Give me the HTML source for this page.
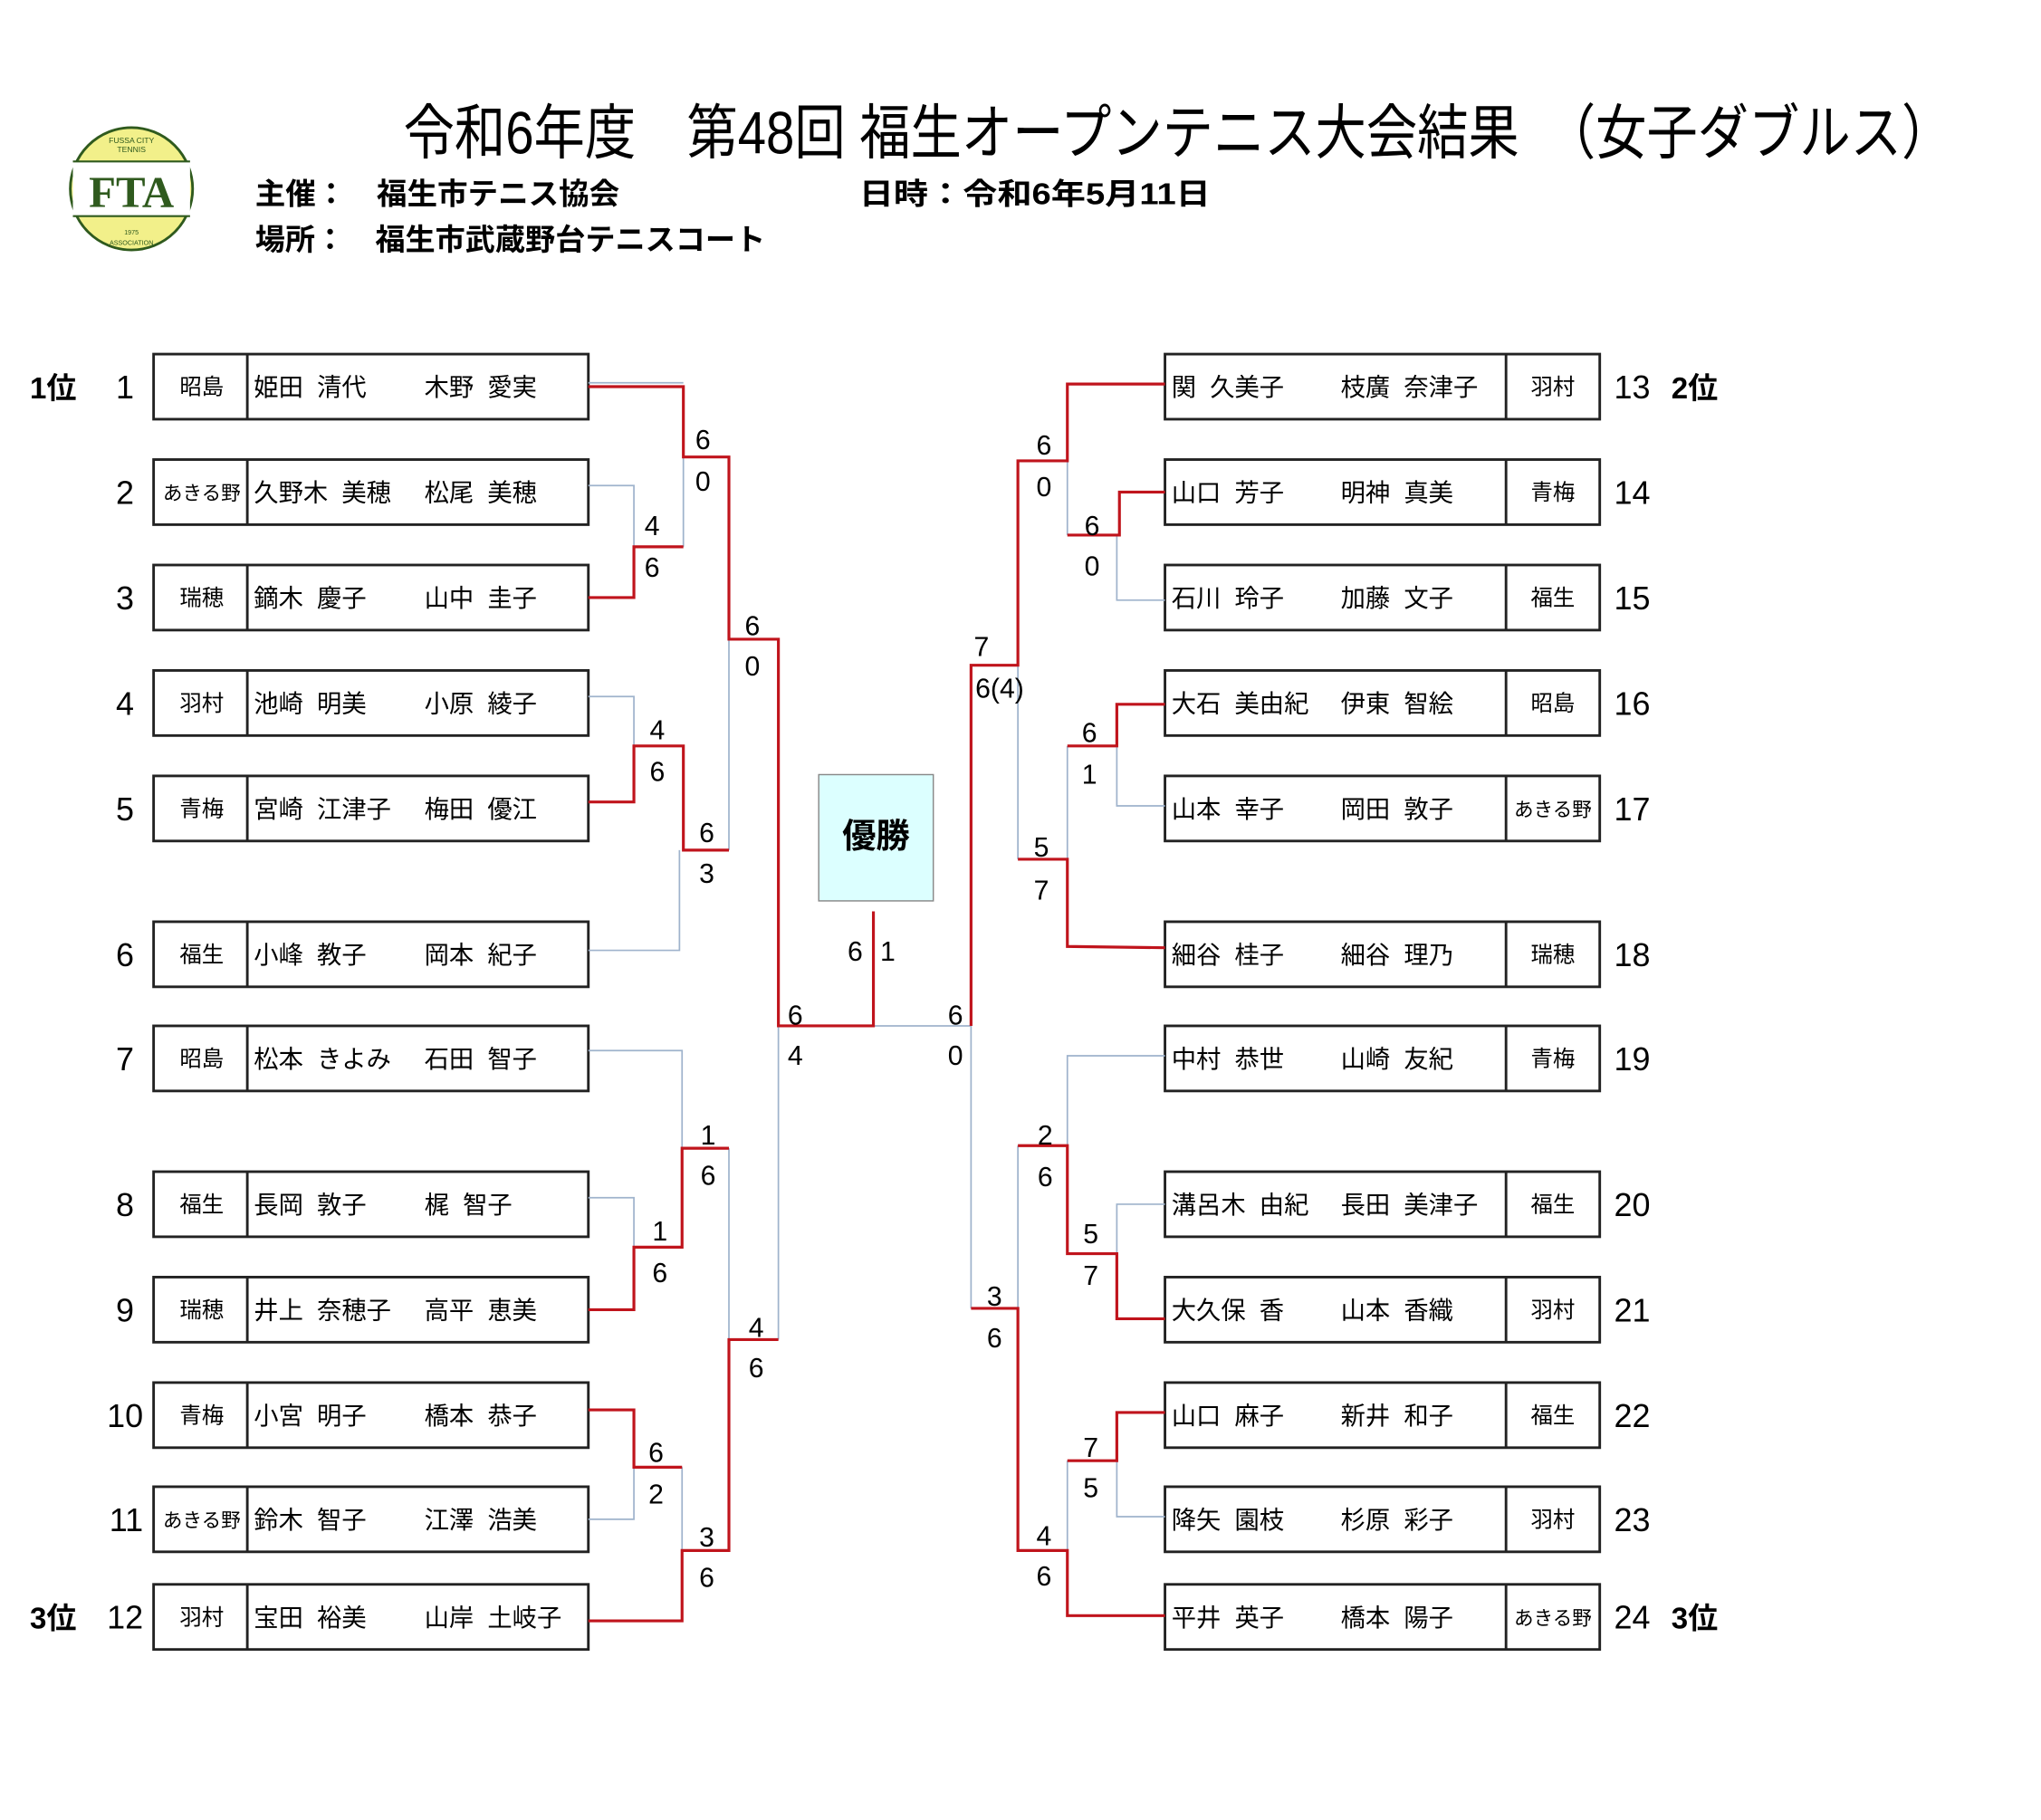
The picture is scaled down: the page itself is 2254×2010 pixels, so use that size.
<!DOCTYPE html>
<html><head><meta charset="utf-8"><style>
html,body{margin:0;padding:0;background:#fff;}
svg{display:block;}
text{font-family:"Liberation Sans","Noto Sans CJK JP",sans-serif;fill:#000;}
</style></head><body>
<svg width="2254" height="2010" viewBox="0 0 1568 1398" preserveAspectRatio="none" xmlns="http://www.w3.org/2000/svg">
<!-- logo -->
<circle cx="101" cy="145" r="47" fill="#f2f08a" stroke="#2f5a1e" stroke-width="2"/>
<rect x="56" y="124" width="90" height="42" fill="#fff"/>
<line x1="56" y1="124" x2="146" y2="124" stroke="#2f5a1e" stroke-width="1.5"/>
<line x1="56" y1="166" x2="146" y2="166" stroke="#2f5a1e" stroke-width="1.5"/>
<text x="101" y="159" font-size="34" text-anchor="middle" style="font-family:'Liberation Serif',serif;fill:#2f5a1e" font-weight="bold">FTA</text>
<text x="101" y="110" font-size="6" text-anchor="middle" style="fill:#2f5a1e">FUSSA CITY</text>
<text x="101" y="117" font-size="6" text-anchor="middle" style="fill:#2f5a1e">TENNIS</text>
<text x="101" y="180" font-size="5" text-anchor="middle" style="fill:#2f5a1e">1975</text>
<text x="101" y="188" font-size="5" text-anchor="middle" style="fill:#2f5a1e">ASSOCIATION</text>

<text x="310" y="118" font-size="46" textLength="1190" lengthAdjust="spacingAndGlyphs">令和6年度　第48回 福生オープンテニス大会結果　（女子ダブルス）</text>
<text x="196" y="157" font-size="23" font-weight="bold" textLength="280" lengthAdjust="spacingAndGlyphs">主催：　福生市テニス協会</text>
<text x="660" y="157" font-size="23" font-weight="bold" textLength="270" lengthAdjust="spacingAndGlyphs">日時：令和6年5月11日</text>
<text x="196" y="192" font-size="23" font-weight="bold" textLength="392" lengthAdjust="spacingAndGlyphs">場所：　福生市武蔵野台テニスコート</text>

<g fill="none" stroke="#222" stroke-width="2">
<rect x="118" y="272" width="334" height="50"/><line x1="190" y1="272" x2="190" y2="322"/>
<rect x="118" y="353" width="334" height="50"/><line x1="190" y1="353" x2="190" y2="403"/>
<rect x="118" y="434" width="334" height="50"/><line x1="190" y1="434" x2="190" y2="484"/>
<rect x="118" y="515" width="334" height="50"/><line x1="190" y1="515" x2="190" y2="565"/>
<rect x="118" y="596" width="334" height="50"/><line x1="190" y1="596" x2="190" y2="646"/>
<rect x="118" y="708" width="334" height="50"/><line x1="190" y1="708" x2="190" y2="758"/>
<rect x="118" y="788" width="334" height="50"/><line x1="190" y1="788" x2="190" y2="838"/>
<rect x="118" y="900" width="334" height="50"/><line x1="190" y1="900" x2="190" y2="950"/>
<rect x="118" y="981" width="334" height="50"/><line x1="190" y1="981" x2="190" y2="1031"/>
<rect x="118" y="1062" width="334" height="50"/><line x1="190" y1="1062" x2="190" y2="1112"/>
<rect x="118" y="1142" width="334" height="50"/><line x1="190" y1="1142" x2="190" y2="1192"/>
<rect x="118" y="1217" width="334" height="50"/><line x1="190" y1="1217" x2="190" y2="1267"/>

<rect x="895" y="272" width="334" height="50"/><line x1="1157" y1="272" x2="1157" y2="322"/>
<rect x="895" y="353" width="334" height="50"/><line x1="1157" y1="353" x2="1157" y2="403"/>
<rect x="895" y="434" width="334" height="50"/><line x1="1157" y1="434" x2="1157" y2="484"/>
<rect x="895" y="515" width="334" height="50"/><line x1="1157" y1="515" x2="1157" y2="565"/>
<rect x="895" y="596" width="334" height="50"/><line x1="1157" y1="596" x2="1157" y2="646"/>
<rect x="895" y="708" width="334" height="50"/><line x1="1157" y1="708" x2="1157" y2="758"/>
<rect x="895" y="788" width="334" height="50"/><line x1="1157" y1="788" x2="1157" y2="838"/>
<rect x="895" y="900" width="334" height="50"/><line x1="1157" y1="900" x2="1157" y2="950"/>
<rect x="895" y="981" width="334" height="50"/><line x1="1157" y1="981" x2="1157" y2="1031"/>
<rect x="895" y="1062" width="334" height="50"/><line x1="1157" y1="1062" x2="1157" y2="1112"/>
<rect x="895" y="1142" width="334" height="50"/><line x1="1157" y1="1142" x2="1157" y2="1192"/>
<rect x="895" y="1217" width="334" height="50"/><line x1="1157" y1="1217" x2="1157" y2="1267"/>
</g>

<g fill="none" stroke="#9fb3cc" stroke-width="1.2">
<polyline points="452,294 525,294"/>
<polyline points="452,373 487,373 487,420"/>
<polyline points="525,420 525,351"/>
<polyline points="452,535 487,535 487,573"/>
<polyline points="452,730 522,730 522,653"/>
<polyline points="560,653 560,491"/>
<polyline points="452,807 524,807 524,882"/>
<polyline points="452,920 487,920 487,958"/>
<polyline points="452,1167 487,1167 487,1127"/>
<polyline points="524,1127 524,1191"/>
<polyline points="560,882 560,1029"/>
<polyline points="598,1029 598,788"/>
<polyline points="671,788 746,788"/>
<polyline points="895,461 858,461 858,411"/>
<polyline points="820,354 820,411"/>
<polyline points="895,619 858,619 858,573"/>
<polyline points="820,573 820,660"/>
<polyline points="782,511 782,660"/>
<polyline points="746,788 746,1005"/>
<polyline points="895,811 820,811 820,880"/>
<polyline points="895,925 858,925 858,963"/>
<polyline points="895,1165 858,1165 858,1122"/>
<polyline points="820,1122 820,1191"/>
<polyline points="782,880 782,1005"/>
</g>
<g fill="none" stroke="#c0141c" stroke-width="2.2">
<polyline points="452,297 525,297 525,351 560,351 560,491 598,491 598,788 671,788 671,700"/>
<polyline points="452,459 487,459 487,420 525,420"/>
<polyline points="452,616 487,616 487,573 525,573 525,653 560,653"/>
<polyline points="452,1006 487,1006 487,958 524,958 524,882 560,882"/>
<polyline points="452,1083 487,1083 487,1127 524,1127"/>
<polyline points="452,1245 524,1245 524,1191 560,1191 560,1029 598,1029"/>
<polyline points="895,295 820,295 820,354 782,354 782,511 746,511 746,788"/>
<polyline points="895,378 860,378 860,411 820,411"/>
<polyline points="895,541 858,541 858,573 820,573"/>
<polyline points="895,728 820,727 820,660 782,660"/>
<polyline points="895,1013 858,1013 858,963 820,963 820,880 782,880"/>
<polyline points="895,1085 858,1085 858,1122 820,1122"/>
<polyline points="895,1241 820,1241 820,1191 782,1191 782,1005 746,1005"/>
</g>

<rect x="629" y="595" width="88" height="97" fill="#dcffff" stroke="#888" stroke-width="1"/>
<text x="673" y="651" font-size="26" font-weight="bold" text-anchor="middle">優勝</text>

<g font-size="21" text-anchor="middle">
<text x="540" y="345">6</text><text x="540" y="377">0</text>
<text x="501" y="411">4</text><text x="501" y="443">6</text>
<text x="578" y="488">6</text><text x="578" y="519">0</text>
<text x="505" y="568">4</text><text x="505" y="600">6</text>
<text x="543" y="647">6</text><text x="543" y="678">3</text>
<text x="611" y="787">6</text><text x="611" y="818">4</text>
<text x="544" y="879">1</text><text x="544" y="910">6</text>
<text x="507" y="953">1</text><text x="507" y="985">6</text>
<text x="504" y="1123">6</text><text x="504" y="1155">2</text>
<text x="543" y="1188">3</text><text x="543" y="1219">6</text>
<text x="581" y="1027">4</text><text x="581" y="1058">6</text>
<text x="657" y="738">6</text><text x="682" y="738">1</text>
<text x="734" y="787">6</text><text x="734" y="818">0</text>
<text x="802" y="349">6</text><text x="802" y="381">0</text>
<text x="839" y="411">6</text><text x="839" y="442">0</text>
<text x="754" y="504">7</text><text x="768" y="536">6(4)</text>
<text x="837" y="570">6</text><text x="837" y="602">1</text>
<text x="800" y="658">5</text><text x="800" y="691">7</text>
<text x="803" y="879">2</text><text x="803" y="911">6</text>
<text x="838" y="955">5</text><text x="838" y="987">7</text>
<text x="764" y="1003">3</text><text x="764" y="1035">6</text>
<text x="838" y="1119">7</text><text x="838" y="1150">5</text>
<text x="802" y="1187">4</text><text x="802" y="1218">6</text>
</g>

<g font-size="25" text-anchor="end">
<text x="103" y="306">1</text><text x="103" y="387">2</text><text x="103" y="468">3</text>
<text x="103" y="549">4</text><text x="103" y="630">5</text><text x="103" y="742">6</text>
<text x="103" y="822">7</text><text x="103" y="934">8</text><text x="103" y="1015">9</text>
<text x="110" y="1096">10</text><text x="110" y="1176">11</text><text x="110" y="1251">12</text>
</g>
<text x="23" y="306" font-size="23" font-weight="bold">1位</text>
<text x="23" y="1251" font-size="23" font-weight="bold">3位</text>
<g font-size="25">
<text x="1240" y="306">13</text><text x="1240" y="387">14</text><text x="1240" y="468">15</text>
<text x="1240" y="549">16</text><text x="1240" y="630">17</text><text x="1240" y="742">18</text>
<text x="1240" y="822">19</text><text x="1240" y="934">20</text><text x="1240" y="1015">21</text>
<text x="1240" y="1096">22</text><text x="1240" y="1176">23</text><text x="1240" y="1251">24</text>
</g>
<text x="1284" y="306" font-size="23" font-weight="bold">2位</text>
<text x="1284" y="1251" font-size="23" font-weight="bold">3位</text>

<g font-size="17" text-anchor="middle">
<text x="155" y="303">昭島</text>
<text x="155" y="384" font-size="15">あきる野</text>
<text x="155" y="465">瑞穂</text>
<text x="155" y="546">羽村</text>
<text x="155" y="627">青梅</text>
<text x="155" y="739">福生</text>
<text x="155" y="819">昭島</text>
<text x="155" y="931">福生</text>
<text x="155" y="1012">瑞穂</text>
<text x="155" y="1093">青梅</text>
<text x="155" y="1173" font-size="15">あきる野</text>
<text x="155" y="1248">羽村</text>
<text x="1193" y="303">羽村</text>
<text x="1193" y="384">青梅</text>
<text x="1193" y="465">福生</text>
<text x="1193" y="546">昭島</text>
<text x="1193" y="627" font-size="15">あきる野</text>
<text x="1193" y="739">瑞穂</text>
<text x="1193" y="819">青梅</text>
<text x="1193" y="931">福生</text>
<text x="1193" y="1012">羽村</text>
<text x="1193" y="1093">福生</text>
<text x="1193" y="1173">羽村</text>
<text x="1193" y="1248" font-size="15">あきる野</text>
</g>

<g font-size="19">
<text x="195" y="304">姫田&#160;&#160;清代</text><text x="326" y="304">木野&#160;&#160;愛実</text>
<text x="195" y="385">久野木&#160;&#160;美穂</text><text x="326" y="385">松尾&#160;&#160;美穂</text>
<text x="195" y="466">鏑木&#160;&#160;慶子</text><text x="326" y="466">山中&#160;&#160;圭子</text>
<text x="195" y="547">池崎&#160;&#160;明美</text><text x="326" y="547">小原&#160;&#160;綾子</text>
<text x="195" y="628">宮崎&#160;&#160;江津子</text><text x="326" y="628">梅田&#160;&#160;優江</text>
<text x="195" y="740">小峰&#160;&#160;教子</text><text x="326" y="740">岡本&#160;&#160;紀子</text>
<text x="195" y="820">松本&#160;&#160;きよみ</text><text x="326" y="820">石田&#160;&#160;智子</text>
<text x="195" y="932">長岡&#160;&#160;敦子</text><text x="326" y="932">梶&#160;&#160;智子</text>
<text x="195" y="1013">井上&#160;&#160;奈穂子</text><text x="326" y="1013">高平&#160;&#160;恵美</text>
<text x="195" y="1094">小宮&#160;&#160;明子</text><text x="326" y="1094">橋本&#160;&#160;恭子</text>
<text x="195" y="1174">鈴木&#160;&#160;智子</text><text x="326" y="1174">江澤&#160;&#160;浩美</text>
<text x="195" y="1249">宝田&#160;&#160;裕美</text><text x="326" y="1249">山岸&#160;&#160;土岐子</text>

<text x="900" y="304">関&#160;&#160;久美子</text><text x="1030" y="304">枝廣&#160;&#160;奈津子</text>
<text x="900" y="385">山口&#160;&#160;芳子</text><text x="1030" y="385">明神&#160;&#160;真美</text>
<text x="900" y="466">石川&#160;&#160;玲子</text><text x="1030" y="466">加藤&#160;&#160;文子</text>
<text x="900" y="547">大石&#160;&#160;美由紀</text><text x="1030" y="547">伊東&#160;&#160;智絵</text>
<text x="900" y="628">山本&#160;&#160;幸子</text><text x="1030" y="628">岡田&#160;&#160;敦子</text>
<text x="900" y="740">細谷&#160;&#160;桂子</text><text x="1030" y="740">細谷&#160;&#160;理乃</text>
<text x="900" y="820">中村&#160;&#160;恭世</text><text x="1030" y="820">山崎&#160;&#160;友紀</text>
<text x="900" y="932">溝呂木&#160;&#160;由紀</text><text x="1030" y="932">長田&#160;&#160;美津子</text>
<text x="900" y="1013">大久保&#160;&#160;香</text><text x="1030" y="1013">山本&#160;&#160;香織</text>
<text x="900" y="1094">山口&#160;&#160;麻子</text><text x="1030" y="1094">新井&#160;&#160;和子</text>
<text x="900" y="1174">降矢&#160;&#160;園枝</text><text x="1030" y="1174">杉原&#160;&#160;彩子</text>
<text x="900" y="1249">平井&#160;&#160;英子</text><text x="1030" y="1249">橋本&#160;&#160;陽子</text>
</g>
</svg>
</body></html>
